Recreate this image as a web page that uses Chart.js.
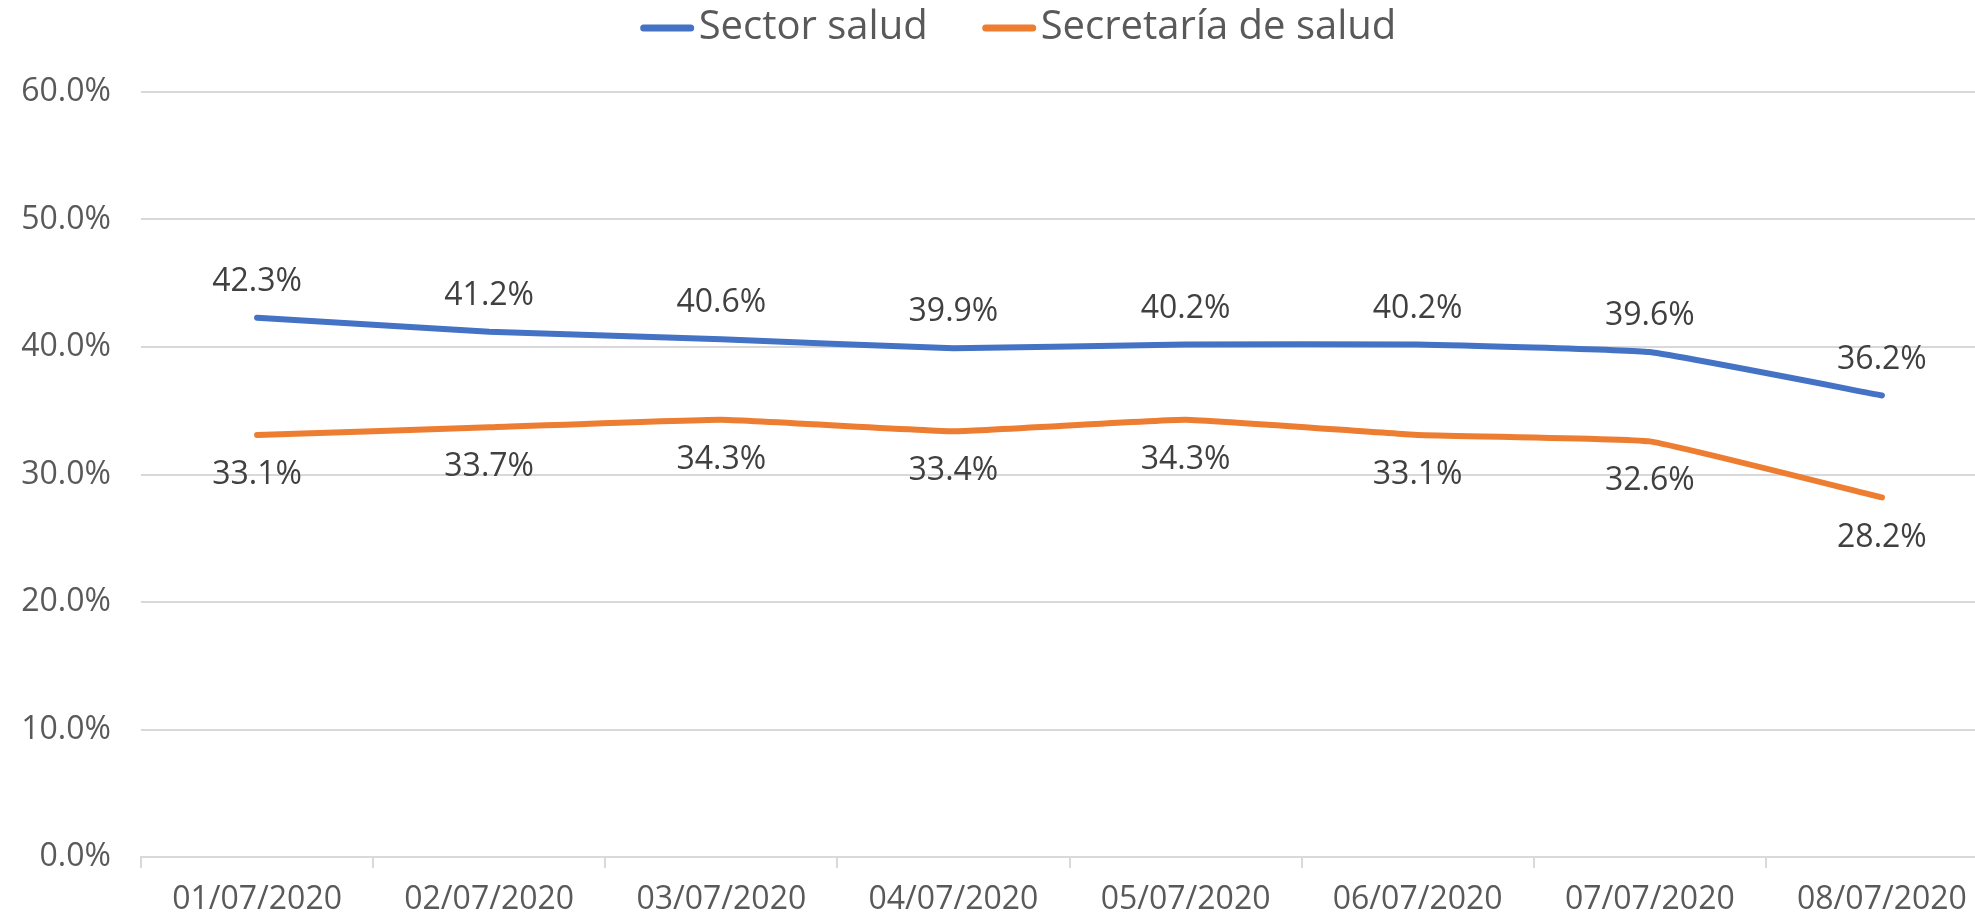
<!DOCTYPE html>
<html>
<head>
<meta charset="utf-8">
<script src="https://cdn.jsdelivr.net/npm/chart.js@4/dist/chart.umd.min.js"></script>
<style>
  html, body { margin: 0; padding: 0; background: #fff; overflow: hidden; }
  #wrap { width: 2000px; height: 932px; }
</style>
</head>
<body>
<div id="wrap"><canvas id="line-chart"></canvas></div>
<script>
const fechas = ['01/07/2020', '02/07/2020', '03/07/2020', '04/07/2020', '05/07/2020', '06/07/2020', '07/07/2020', '08/07/2020'];
const sectorSalud = [42.3, 41.2, 40.6, 39.9, 40.2, 40.2, 39.6, 36.2];
const secretariaSalud = [33.1, 33.7, 34.3, 33.4, 34.3, 33.1, 32.6, 28.2];
const yMin = 0, yMax = 60, yStep = 10;

const fuente = '"Open Sans", sans-serif';

// etiquetas de valor: azul arriba, naranja abajo
const valueLabels = {
  id: 'valueLabels',
  afterDatasetsDraw(chart) {
    const ctx = chart.ctx;
    ctx.save();
    ctx.font = '32px ' + fuente;
    ctx.fillStyle = '#404040';
    ctx.textAlign = 'center';
    ctx.textBaseline = 'middle';
    chart.data.datasets.forEach((ds, i) => {
      const meta = chart.getDatasetMeta(i);
      meta.data.forEach((pt, j) => {
        const off = i === 0 ? -36 : 40;
        ctx.fillText(ds.data[j].toFixed(1) + '%', pt.x, pt.y + off);
      });
    });
    ctx.restore();
  }
};

// leyenda a mano (linea gruesa + texto pegado)
const leyenda = {
  id: 'leyenda',
  afterDraw(chart) {
    const ctx = chart.ctx;
    ctx.save();
    ctx.font = '40px ' + fuente;
    const sw = 55, gap = 4, sep = 54;
    const items = chart.data.datasets.map(d => ({ t: d.label, c: d.borderColor, w: ctx.measureText(d.label).width }));
    let total = items.reduce((s, it) => s + sw + gap + it.w, 0) + sep * (items.length - 1);
    let x = 1018 - total / 2;
    const y = 28;
    items.forEach(it => {
      ctx.strokeStyle = it.c;
      ctx.lineWidth = 7;
      ctx.lineCap = 'round';
      ctx.beginPath();
      ctx.moveTo(x + 4, y);
      ctx.lineTo(x + sw - 4, y);
      ctx.stroke();
      ctx.fillStyle = '#595959';
      ctx.textBaseline = 'middle';
      ctx.fillText(it.t, x + sw + gap, y);
      x += sw + gap + it.w + sep;
    });
    ctx.restore();
  }
};

const dataL = {
  labels: fechas,
  datasets: [{
    label: 'Sector salud',
    data: sectorSalud,
    borderColor: '#4472C4',
    backgroundColor: '#4472C4',
    borderWidth: 6,
    borderCapStyle: 'round',
    pointRadius: 0,
    tension: 0.1
  }, {
    label: 'Secretaría de salud',
    data: secretariaSalud,
    borderColor: '#ED7D31',
    backgroundColor: '#ED7D31',
    borderWidth: 6,
    borderCapStyle: 'round',
    pointRadius: 0,
    tension: 0.1
  }]
};

const configL = {
  type: 'line',
  data: dataL,
  plugins: [valueLabels, leyenda],
  options: {
    responsive: true,
    maintainAspectRatio: false,
    animation: false,
    layout: { padding: { top: 92, left: 0, right: 2, bottom: 0 } },
    plugins: {
      legend: { display: false },
      tooltip: { enabled: false }
    },
    scales: {
      x: {
        offset: true,
        grid: { display: true, drawOnChartArea: false, drawTicks: true, tickLength: 11, color: '#d9d9d9', lineWidth: 2, offset: true },
        border: { color: '#d9d9d9', width: 2 },
        ticks: { color: '#595959', font: { family: fuente, size: 32, lineHeight: 1.0 }, padding: 16, maxRotation: 0, autoSkip: false }
      },
      y: {
        min: yMin,
        max: yMax,
        afterFit(scale) { scale.width = 141; },
        grid: { color: '#d9d9d9', lineWidth: 2, drawTicks: false },
        border: { display: false },
        ticks: {
          stepSize: yStep,
          color: '#595959',
          font: { family: fuente, size: 32 },
          padding: 30,
          callback: v => v.toFixed(1) + '%'
        }
      }
    }
  }
};

let lineObj = document.getElementById('line-chart');
let lineChart = new Chart(lineObj, configL);
</script>
</body>
</html>
